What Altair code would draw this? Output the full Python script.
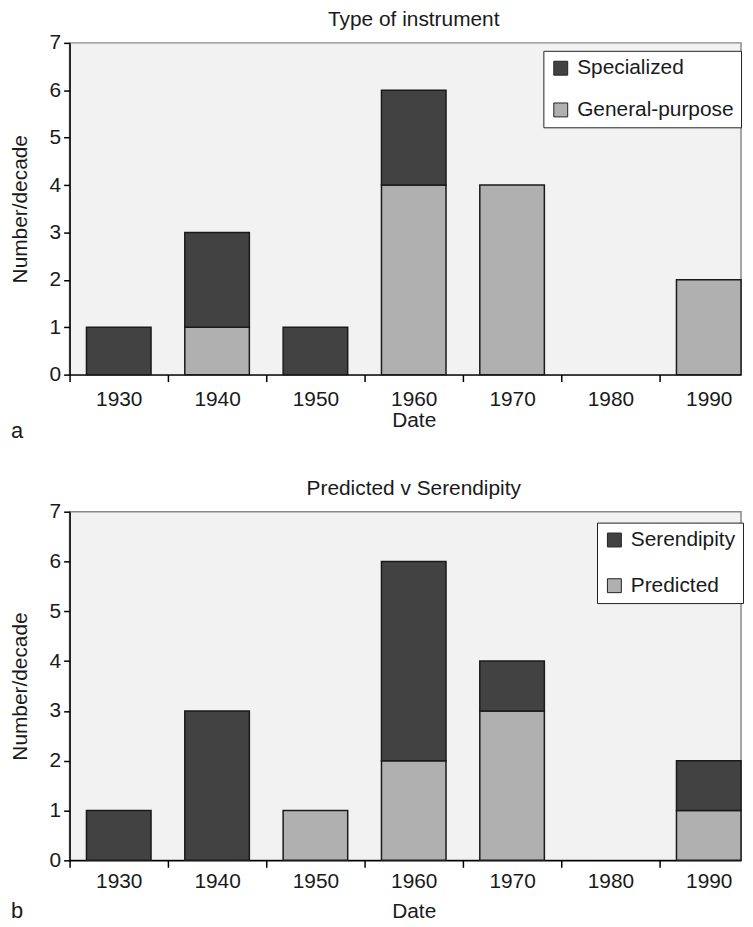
import altair as alt
import pandas as pd

decades = [1930, 1940, 1950, 1960, 1970, 1980, 1990]
specialized = [1, 2, 1, 2, 0, 0, 0]
general_purpose = [0, 1, 0, 4, 4, 0, 2]
serendipity = [1, 3, 0, 4, 1, 0, 1]
predicted = [0, 0, 1, 2, 3, 0, 1]

FONT = "Liberation Sans"
DARK = "#424242"
LIGHT = "#b0b0b0"
TXT = "#1a1a1a"
W = 676
STEP = 99.0
X_MIN = 1925
X_MAX = X_MIN + W / STEP * 10


def make_df(top_name, top_vals, bottom_name, bottom_vals):
    rows = []
    for d, t, b in zip(decades, top_vals, bottom_vals):
        rows.append({"Date": d, "Type": bottom_name, "Count": b, "ord": 0})
        rows.append({"Date": d, "Type": top_name, "Count": t, "ord": 1})
    return pd.DataFrame(rows)


def panel(df, title, top_name, bottom_name, height, letter, lx, ly, row_pad,
          label_pad, xtitle_pad, letter_y):
    bars = alt.Chart(df).transform_filter("datum.Count > 0").mark_bar(
        stroke="#1a1a1a", strokeWidth=1.5, size=65
    ).encode(
        x=alt.X("Date:Q", scale=alt.Scale(domain=[X_MIN, X_MAX], nice=False, zero=False,
                                          padding=0),
                axis=alt.Axis(title="Date", values=decades, format="d", grid=False,
                              tickOffset=-STEP / 2, labelOffset=STEP / 2,
                              labelAngle=0, labelFlush=False, labelOverlap=False,
                              domainColor="black", tickColor="black", tickSize=7,
                              domainWidth=1.5, tickWidth=1.5,
                              labelFont=FONT, labelFontSize=21, labelColor=TXT,
                              labelPadding=label_pad,
                              titleFont=FONT, titleFontSize=21, titleFontWeight="normal",
                              titleColor=TXT, titlePadding=xtitle_pad,
                              titleX=(1960 - X_MIN) * STEP / 10)),
        y=alt.Y("Count:Q", stack="zero", scale=alt.Scale(domain=[0, 7], nice=False),
                axis=alt.Axis(title="Number/decade", values=[0, 1, 2, 3, 4, 5, 6, 7],
                              grid=False, domainColor="black", tickColor="black",
                              tickSize=6, domainWidth=1.5, tickWidth=1.5,
                              labelFont=FONT, labelFontSize=21, labelColor=TXT,
                              labelPadding=3,
                              titleFont=FONT, titleFontSize=21, titleFontWeight="normal",
                              titleColor=TXT, titlePadding=19)),
        color=alt.Color("Type:N",
                        scale=alt.Scale(domain=[top_name, bottom_name], range=[DARK, LIGHT]),
                        legend=alt.Legend(title=None, orient="none", legendX=lx, legendY=ly,
                                          fillColor="white", strokeColor="#222",
                                          padding=7, symbolType="square", symbolSize=196,
                                          symbolStrokeColor="#222", symbolStrokeWidth=1,
                                          labelFont=FONT, labelFontSize=21, labelColor=TXT,
                                          labelOffset=6, rowPadding=row_pad)),
        order=alt.Order("ord:Q"),
    )
    lab = alt.Chart(pd.DataFrame({"t": [letter]})).mark_text(
        font=FONT, fontSize=22, color=TXT, align="left", baseline="middle"
    ).encode(text="t:N", x=alt.value(-59), y=alt.value(letter_y))
    return alt.layer(bars, lab).properties(
        width=W, height=height,
        title=alt.TitleParams(title, font=FONT, fontSize=21, fontWeight="normal",
                              color=TXT, offset=2, anchor="middle",
                              dx=(1960 - X_MIN) * STEP / 10 - W / 2),
    )


df_a = make_df("Specialized", specialized, "General-purpose", general_purpose)
df_b = make_df("Serendipity", serendipity, "Predicted", predicted)

pa = panel(df_a, "Type of instrument", "Specialized", "General-purpose", 334, "a",
           477, 8, 20, 7, 0, 391)
pb = panel(df_b, "Predicted v Serendipity", "Serendipity", "Predicted", 351, "b",
           531, 11, 24, 3, 10, 402)

chart = alt.vconcat(pa, pb, spacing=34).resolve_scale(color="independent").properties(
    padding={"left": 0, "top": -3, "right": 0, "bottom": 0}
).configure_view(fill="#f2f2f2", stroke="#8a8a8a", strokeWidth=1.5)

chart.save("out.html", embed_options={"renderer": "svg", "actions": False})
